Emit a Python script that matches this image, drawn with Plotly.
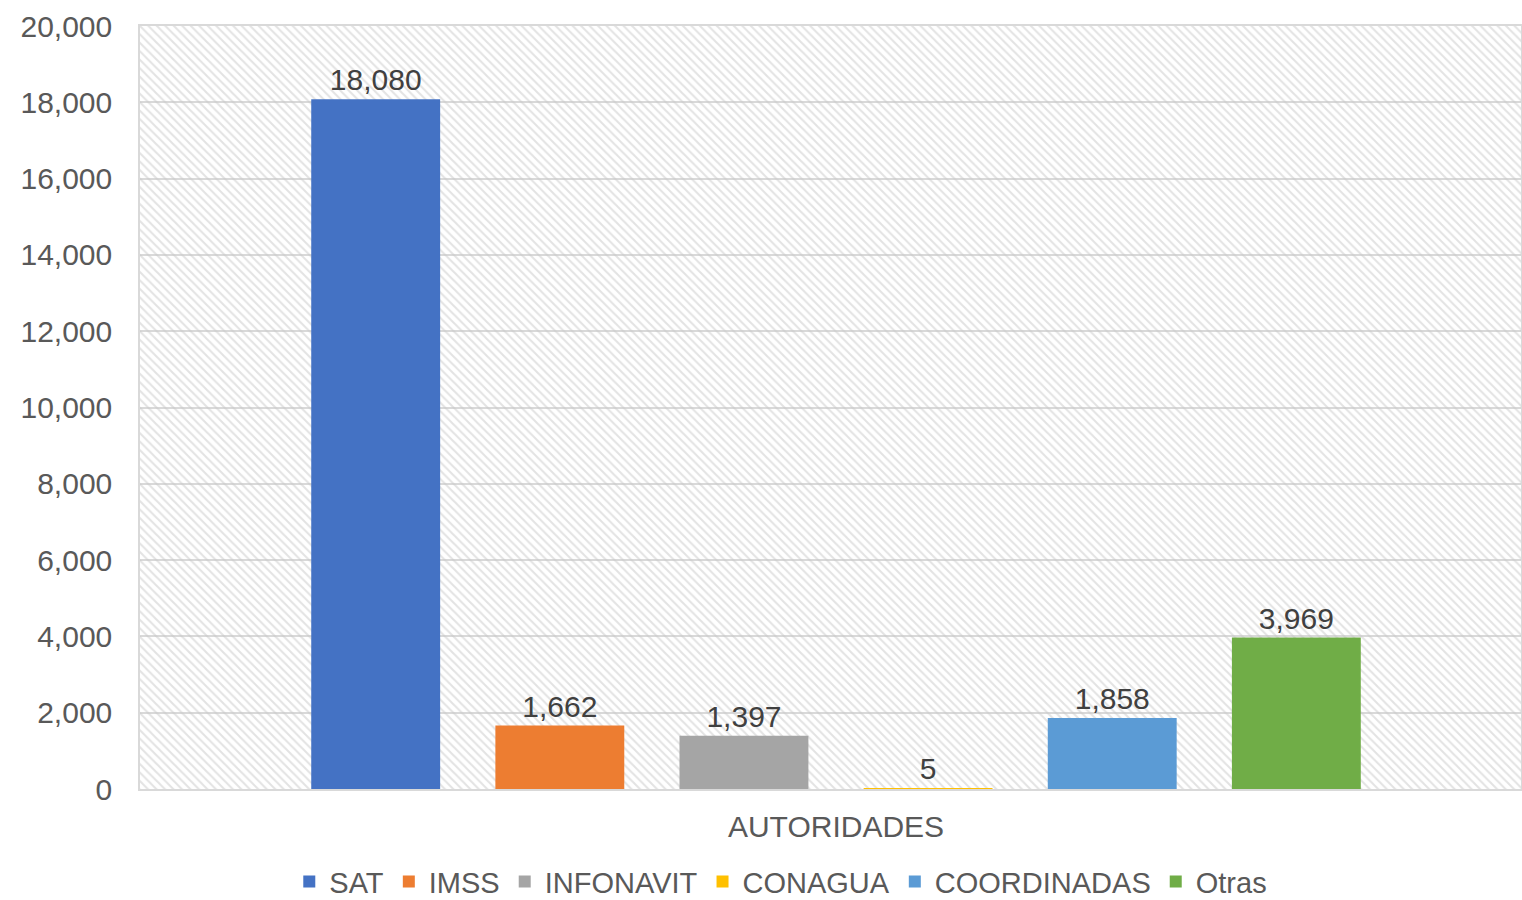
import plotly.graph_objects as go

category = ["AUTORIDADES"]
series_names = ["SAT", "IMSS", "INFONAVIT", "CONAGUA", "COORDINADAS", "Otras"]
series_values = [18080, 1662, 1397, 5, 1858, 3969]
series_colors = ["#4472C4", "#ED7D31", "#A5A5A5", "#FFC000", "#5B9BD5", "#70AD47"]
y_ticks = [0, 2000, 4000, 6000, 8000, 10000, 12000, 14000, 16000, 18000, 20000]

FONT = "Arial, Liberation Sans, sans-serif"
FS = 30

fig = go.Figure()

# hatched plot-area background
fig.add_trace(go.Bar(
    x=[0], y=[max(y_ticks)], width=[1], xaxis="x", yaxis="y",
    marker=dict(color="rgba(0,0,0,0)", line=dict(width=0),
                pattern=dict(shape="\\", fgcolor="#c8c8c8", size=6, solidity=0.35)),
    showlegend=False, hoverinfo="skip", textposition="none",
))

for name, val, col in zip(series_names, series_values, series_colors):
    fig.add_trace(go.Bar(
        name=name, x=category, y=[val], xaxis="x2", yaxis="y",
        marker=dict(color=col, line=dict(width=0)),
        text=[f"{val:,}"], textposition="outside", cliponaxis=False,
        textfont=dict(size=FS, color="#404040", family=FONT),
    ))

d = 0.004
fig.update_layout(
    width=1522, height=900,
    margin=dict(l=140, r=1, t=26, b=111, autoexpand=False),
    paper_bgcolor="white", plot_bgcolor="white",
    font=dict(family=FONT, color="#595959", size=FS),
    barmode="group", bargap=0.2, bargroupgap=0.3,
    xaxis=dict(range=[-0.5, 0.5], visible=False, fixedrange=True),
    xaxis2=dict(overlaying="x", type="category", range=[-0.5 - d, 0.5 - d],
                showline=True, mirror=True,
                linecolor="#d9d9d9", linewidth=1.5, showgrid=False,
                ticks="outside", ticklen=10, tickcolor="rgba(0,0,0,0)",
                tickfont=dict(size=FS, color="#595959")),
    yaxis=dict(range=[0, 20000], tickvals=y_ticks, tickformat=",",
               showgrid=True, gridcolor="#d9d9d9", gridwidth=1.5,
               showline=True, mirror=True, linecolor="#d9d9d9", linewidth=1.5,
               zeroline=False, ticks="outside", ticklen=20,
               tickcolor="rgba(0,0,0,0)", tickfont=dict(size=FS, color="#595959")),
    legend=dict(orientation="h", x=0.464, xanchor="center",
                y=-0.088, yanchor="top", tracegroupgap=0,
                font=dict(size=29, color="#595959"), itemwidth=30,
                traceorder="normal", itemclick=False),
    showlegend=True,
)

fig.write_html("out.html", config={"displayModeBar": False},
               post_script="document.body.style.margin='0';")
